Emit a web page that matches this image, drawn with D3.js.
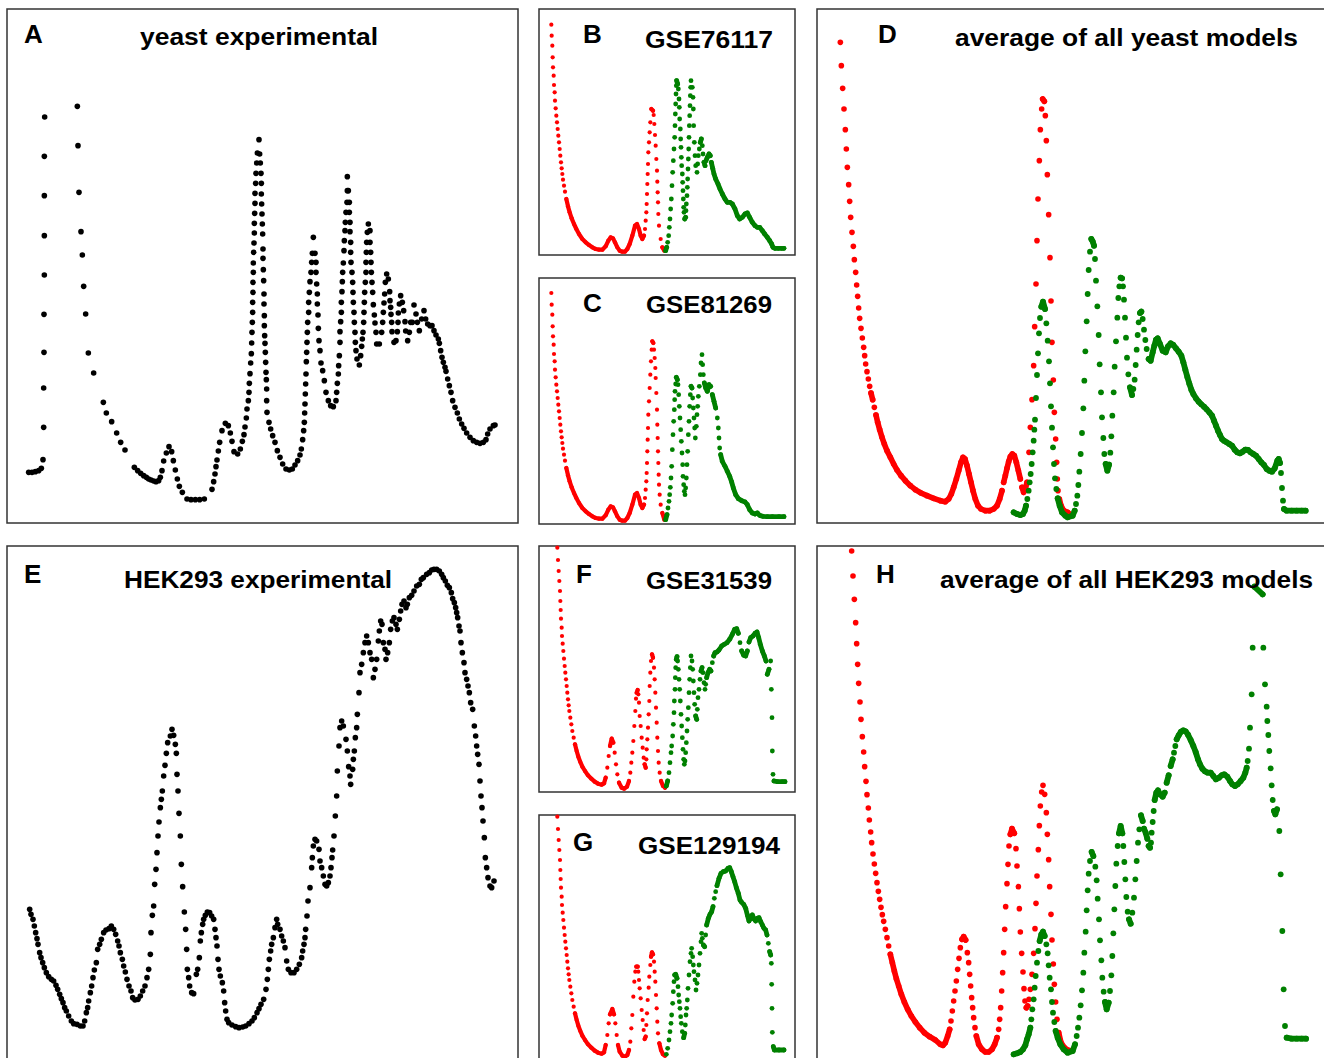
<!DOCTYPE html>
<html lang="en">
<head>
  <meta charset="UTF-8">
  <title>Polysome profiles</title>
  <style>
    body { margin: 0; background: #fff; }
    svg { display: block; }
    text { font-family: "Liberation Sans", Arial, Helvetica, sans-serif; font-weight: bold; }
  </style>
</head>
<body>
  <svg width="1324" height="1058" class="svgs"></svg>
  <script src="https://d3js.org/d3.v7.min.js"></script>
  <script>
    // profiles, [gradient position, absorbance] in arbitrary units
    const yeastExp = [[65,152],[75,152],[85,154],[95,157],[103,164],[108,190],[110,287],[110,405],[111,512],[111,626],[112,744],[112,862],[112,982],[112,1100],[113,1218],
      [211,1250],[213,1132],[216,992],[222,874],[226,804],[230,710],[236,627],[244,510],[260,450],[289,362],[298,330],[314,304],[329,270],[341,242],[354,219],
      [382,167],[392,157],[401,149],[410,142],[418,137],[425,132],[432,129],[440,126],[447,124],[455,127],[460,137],[465,157],[470,186],[478,210],[486,229],[494,214],[499,187],[505,159],[511,132],[517,110],[526,92],[540,72],[552,70],[565,70],[578,70],[592,72],
      [615,101],[620,124],[624,147],[627,169],[630,189],[634,216],[638,242],[645,277],[655,299],[664,292],[670,270],[675,245],[681,214],[692,207],[700,222],[706,245],[711,265],[714,288],[718,315],[720,342],[724,367],[726,392],[727,419],[729,448],[731,480],[733,508],[734,540],[735,572],[736,602],[737,632],[737,662],[738,692],[738,722],[739,752],[739,780],[740,812],[741,840],[742,870],[742,899],[743,929],[744,959],[744,989],[746,1019],[747,1049],[749,1080],[751,1110],[756,1150],
      [758,1107],[760,1080],[762,1049],[763,1019],[763,987],[764,957],[765,927],[766,897],[767,867],[768,822],[768,794],[769,760],[770,727],[771,687],[771,657],[772,622],[772,592],[773,562],[774,539],[775,512],[776,482],[777,452],[778,430],[779,402],[779,367],[780,332],
      [786,302],[791,282],[797,262],[804,242],[811,217],[819,197],[827,177],[837,162],[847,159],[856,162],[864,174],[872,187],[879,204],[883,222],[887,250],[890,277],[892,302],[893,330],[894,357],[895,387],[896,417],[897,447],[898,484],[899,512],[900,542],[901,572],[902,602],[905,632],[905,662],[907,692],[909,724],[912,752],[914,782],[916,809],[919,857],
      [924,809],[927,782],[927,752],[929,717],[931,687],[931,657],[933,624],[934,584],[936,547],[939,517],[942,480],[947,457],[952,427],[957,392],[964,367],[971,352],[979,349],[987,367],[989,392],[991,419],[994,447],[995,472],[997,502],[999,542],[999,574],[1001,604],[1003,632],[1003,662],[1005,694],[1006,724],[1007,752],[1009,780],[1011,817],[1012,847],[1014,877],[1015,902],[1017,932],[1020,962],[1021,997],[1021,1039],
      [1024,997],[1027,962],[1027,932],[1029,902],[1029,874],[1031,842],[1031,812],[1032,782],[1035,752],[1037,722],[1038,692],[1039,662],[1041,632],[1042,602],[1044,572],[1045,542],[1047,517],[1050,492],[1057,474],[1061,502],[1064,530],[1066,552],[1068,572],[1070,602],[1071,632],[1072,662],[1073,692],[1075,722],[1077,752],[1077,782],[1078,812],[1079,842],[1081,872],[1084,897],
      [1089,877],[1089,842],[1091,812],[1092,782],[1093,752],[1095,722],[1097,692],[1099,655],[1102,624],[1104,600],[1107,572],[1109,537],[1117,537],[1124,572],[1127,602],[1129,632],[1131,660],[1133,687],[1135,722],[1139,747],[1144,732],[1148,694],[1149,667],[1151,647],[1152,626],[1154,602],[1155,574],[1161,542],[1167,547],[1171,574],[1173,602],[1174,630],[1177,657],[1181,682],[1186,662],[1190,637],[1194,604],[1196,576],[1202,547],[1207,572],[1211,602],[1216,602],[1221,654],[1227,627],[1231,602],[1237,577],[1244,612],[1251,637],[1256,612],[1262,597],[1269,592],[1275,592],
      [1281,577],[1287,564],[1294,552],[1297,539],[1301,517],[1305,497],[1309,482],[1314,467],[1317,455],[1322,432],[1327,412],[1332,392],[1337,367],[1344,347],[1351,330],[1357,312],[1364,297],[1371,284],[1379,270],[1389,257],[1399,247],[1409,242],[1419,239],[1429,242],[1437,250],[1442,267],[1449,282],[1459,292],[1464,294]]

    const gse76117Red = [[37,691],[38,658],[40,628],[41,593],[42,563],[44,538],[45,510],[47,488],[48,463],[50,440],[52,418],[54,398],[56,378],[58,358],[60,338],[62,318],[64,298],[66,278],[68,260],[70,243],[72,226],[75,208],[78,190],[82,168],[87,146],[92,128],[98,110],[105,93],[112,78],[120,63],[130,48],[140,38],[150,30],[160,23],[170,18],[180,16],[190,16],[200,26],[208,43],[215,53],[222,50],[228,38],[235,23],[242,13],[250,10],[258,10],[265,18],[272,33],[280,58],[288,88],[294,93],[300,78],[305,58],[310,48],[315,58],[318,78],[320,103],[322,128],[323,153],[324,183],[325,213],[326,243],[327,273],[328,308],[330,338],[332,368],[334,398],[337,438],[342,433],[344,420],[346,393],[348,360],[350,328],[352,288],[354,253],[355,220],[356,188],[357,158],[358,123],[360,88],[365,48],[370,23],[376,13]]
    const gse76117Green = [[380,13],[383,23],[386,38],[389,58],[391,83],[393,108],[395,138],[397,168],[399,208],[401,248],[403,283],[405,318],[407,353],[408,388],[409,423],[410,453],[411,483],[412,508],[413,523],[416,513],[418,498],[420,468],[421,443],[422,408],[424,378],[425,348],[426,323],[427,293],[428,268],[430,243],[431,218],[432,193],[433,168],[434,143],[435,128],[437,108],[440,113],[441,133],[442,153],[444,178],[445,203],[446,228],[447,258],[448,288],[449,318],[450,353],[451,388],[452,418],[453,448],[454,478],[455,503],[456,523],[460,503],[462,473],[463,438],[464,388],[466,338],[468,298],[470,268],[474,248],[476,273],[478,298],[481,318],[484,338],[487,348],[490,328],[492,303],[495,278],[498,268],[501,283],[505,293],[510,303],[514,298],[517,278],[521,260],[525,243],[530,228],[537,213],[543,198],[550,183],[558,168],[565,158],[573,158],[580,153],[588,138],[595,118],[602,108],[610,113],[618,123],[625,126],[632,113],[640,98],[648,88],[655,83],[662,83],[670,73],[677,63],[685,53],[692,43],[698,33],[702,23],[708,20],[718,20],[728,20],[735,20]]

    const gse81269Red = [[37,693],[38,658],[40,628],[41,593],[42,563],[44,538],[45,510],[47,488],[48,463],[50,440],[52,418],[54,398],[56,378],[58,358],[60,338],[62,318],[64,298],[66,278],[68,260],[70,243],[72,226],[75,208],[78,190],[82,168],[87,146],[92,128],[98,110],[105,93],[112,78],[120,63],[130,48],[140,38],[150,30],[160,23],[170,18],[180,16],[190,16],[200,26],[208,43],[215,53],[222,50],[228,38],[235,23],[242,13],[250,10],[258,10],[265,18],[272,33],[280,58],[288,88],[294,93],[300,78],[305,58],[310,48],[315,58],[318,78],[320,103],[322,128],[323,153],[324,183],[325,218],[326,253],[327,288],[328,328],[330,368],[332,408],[334,448],[336,488],[338,523],[340,548],[343,543],[345,523],[347,498],[349,468],[350,438],[352,393],[354,343],[355,298],[356,258],[357,218],[358,183],[359,148],[360,118],[362,88],[365,58],[370,33],[376,13]]
    const gse81269Green = [[380,13],[384,28],[387,48],[390,68],[392,88],[394,110],[396,138],[398,173],[400,223],[402,268],[404,308],[406,343],[407,373],[408,398],[410,420],[412,440],[415,433],[417,418],[419,388],[421,353],[423,318],[425,283],[427,248],[429,213],[431,178],[432,143],[434,118],[436,98],[438,88],[440,108],[442,138],[444,178],[446,218],[448,268],[450,308],[452,353],[454,388],[456,413],[459,408],[461,378],[463,348],[465,318],[467,288],[469,258],[472,293],[474,328],[476,353],[478,383],[481,413],[484,448],[486,483],[489,508],[491,478],[493,448],[496,423],[500,408],[505,398],[510,418],[515,413],[520,388],[525,368],[530,348],[535,318],[538,288],[540,258],[542,228],[545,208],[550,188],[558,173],[565,158],[572,143],[578,126],[583,108],[590,88],[598,76],[608,70],[618,66],[625,58],[632,43],[640,33],[648,30],[655,33],[662,26],[672,23],[685,22],[700,22],[720,22],[735,22]]

    const yeastAvgRed = [[70,1442],[73,1372],[77,1304],[81,1242],[85,1180],[88,1122],[91,1067],[95,1015],[98,965],[101,917],[105,872],[109,830],[112,790],[116,752],[119,714],[122,680],[125,645],[128,614],[132,584],[136,555],[140,527],[143,502],[146,477],[150,454],[154,432],[158,410],[162,390],[167,370],[172,347],[177,324],[182,302],[188,280],[195,257],[202,237],[210,217],[220,197],[230,177],[240,159],[252,142],[265,127],[280,112],[295,100],[312,90],[330,82],[350,74],[370,67],[385,64],[395,72],[403,87],[410,107],[418,132],[425,157],[432,182],[438,197],[444,192],[450,172],[456,147],[462,122],[468,97],[475,72],[483,52],[492,42],[505,37],[518,37],[530,42],[540,52],[548,72],[555,97],[560,122],[565,142],[570,164],[575,184],[580,199],[586,207],[592,202],[598,182],[604,157],[610,132],[615,107],[620,92],[625,102],[630,122],[636,212],[640,287],[645,370],[650,472],[653,589],[657,717],[660,847],[663,972],[667,1087],[670,1180],[674,1242],[677,1272],[682,1265],[685,1222],[688,1147],[691,1045],[695,925],[699,796],[702,666],[705,542],[709,429],[712,332],[716,252],[719,182],[721,132],[723,97],[727,72],[732,52],[740,37],[752,32],[762,24]]
    const yeastAvgGreen = [[590,32],[600,27],[610,24],[618,27],[623,37],[627,52],[631,72],[635,97],[638,122],[641,147],[644,177],[647,212],[650,247],[652,280],[654,310],[657,375],[660,444],[663,509],[666,569],[669,615],[673,649],[678,664],[684,642],[688,599],[692,547],[696,485],[699,419],[702,350],[705,286],[708,227],[711,177],[714,134],[718,102],[722,74],[728,52],[735,32],[745,22],[752,17],[767,22],[773,37],[777,57],[781,82],[784,114],[787,154],[791,207],[795,270],[799,344],[802,427],[805,515],[809,605],[812,687],[815,759],[819,814],[823,852],[827,845],[831,832],[834,792],[837,727],[841,650],[845,564],[848,476],[852,392],[855,317],[859,255],[862,207],[866,177],[871,157],[876,175],[880,211],[883,260],[886,322],[890,392],[893,469],[897,545],[901,616],[904,675],[907,710],[911,736],[915,734],[918,710],[921,670],[924,616],[927,556],[930,496],[934,446],[939,407],[945,384],[949,402],[953,430],[956,474],[959,520],[962,564],[965,602],[969,630],[973,634],[977,612],[981,580],[985,549],[989,522],[995,492],[1001,487],[1007,512],[1012,532],[1017,550],[1022,554],[1029,537],[1037,517],[1046,512],[1053,530],[1061,539],[1069,534],[1077,524],[1085,514],[1093,502],[1099,482],[1105,460],[1111,438],[1117,418],[1123,400],[1129,387],[1137,374],[1145,364],[1153,356],[1161,349],[1169,341],[1177,332],[1185,322],[1191,307],[1197,292],[1203,277],[1209,264],[1215,252],[1221,247],[1229,242],[1237,237],[1245,232],[1253,220],[1261,212],[1269,209],[1277,214],[1285,220],[1293,219],[1301,212],[1309,207],[1317,202],[1325,192],[1333,182],[1341,174],[1349,162],[1357,157],[1365,154],[1373,164],[1381,187],[1385,192],[1389,180],[1392,150],[1395,105],[1398,67],[1401,42],[1409,37],[1424,37],[1439,37],[1454,37],[1466,37]]

    const hekExp = [[68,452],[72,437],[78,422],[82,402],[86,382],[90,364],[93,347],[98,322],[102,307],[107,292],[112,277],[118,262],[125,250],[133,242],[140,237],[147,224],[152,212],[158,197],[163,184],[168,172],[173,157],[178,147],[185,132],[193,117],[200,109],[210,107],[220,102],[228,102],[233,117],[238,142],[242,157],[245,177],[250,202],[254,222],[258,247],[262,270],[268,292],[272,332],[278,347],[283,362],[290,382],[297,390],[306,394],[313,402],[320,392],[326,377],[332,357],[336,342],[340,322],[346,302],[350,282],[355,264],[360,242],[366,222],[372,207],[377,187],[384,180],[393,182],[400,192],[407,207],[414,222],[420,247],[425,272],[430,317],[432,382],[436,434],[440,462],[443,527],[447,572],[450,622],[453,672],[456,714],[460,757],[463,782],[466,807],[470,852],[474,884],[478,920],[482,952],[490,972],[495,992],[500,974],[505,947],[508,920],[510,857],[513,807],[516,740],[520,672],[523,587],[527,520],[532,444],[536,392],[539,332],[541,272],[545,247],[548,222],[554,202],[560,199],
      [568,257],[572,272],[577,307],[580,357],[583,382],[587,407],[590,422],[595,434],[601,444],[608,442],[614,432],[620,422],[624,392],[627,367],[630,342],[633,302],[636,272],[640,252],[646,232],[650,207],[653,172],[656,147],[660,122],[665,112],[675,105],[686,100],[696,97],[707,99],[716,102],[726,109],[735,117],[742,127],[750,142],[756,154],[762,167],[770,182],
      [777,212],[781,242],[784,272],[787,302],[791,327],[794,347],[799,367],[804,397],[809,422],[812,407],[819,392],[824,372],[829,357],[834,337],[839,297],[844,272],[852,262],[861,262],[869,272],[877,287],[884,307],[887,327],[891,347],[894,367],[896,392],[900,432],[903,477],[909,517],[914,577],[916,607],[919,642],[924,662],[929,657],[936,632],[939,597],[944,577],[949,552],[954,527],[959,522],[964,532],[969,552],[972,577],[975,607],[977,630],[981,672],[985,732],[989,792],[991,867],[996,942],[999,997],[1004,1017],[1009,1002],[1017,962],[1021,927],[1025,880],[1029,852],[1031,827],[1037,872],[1039,902],[1042,927],[1045,967],[1049,997],[1051,1037],[1056,1102],[1059,1162],[1064,1187],[1069,1222],[1074,1252],[1079,1272],[1084,1252],[1089,1222],[1094,1202],[1099,1147],[1104,1172],[1109,1202],[1114,1257],[1117,1287],[1121,1317],[1125,1307],[1129,1252],[1134,1232],[1137,1202],[1142,1222],[1147,1252],[1151,1292],[1156,1317],[1161,1327],[1167,1307],[1171,1292],[1177,1322],[1181,1347],[1185,1367],[1191,1377],[1197,1357],[1201,1367],[1207,1387],[1214,1394],[1221,1407],[1229,1422],[1237,1427],[1243,1442],[1249,1447],[1259,1457],[1267,1462],[1274,1470],[1281,1472],[1289,1472],[1297,1467],[1304,1457],[1309,1447],[1315,1437],[1321,1424],[1327,1417],[1333,1402],[1337,1384],[1342,1372],[1346,1357],[1349,1342],[1352,1327],[1356,1302],[1359,1287],[1362,1252],[1366,1222],[1371,1192],[1374,1162],[1379,1142],[1383,1122],[1387,1102],[1391,1072],[1397,1052],[1402,1002],[1406,972],[1409,942],[1412,917],[1416,887],[1419,837],[1422,792],[1425,757],[1428,717],[1432,667],[1435,607],[1439,577],[1443,547],[1449,522],[1454,517],[1461,537]]

    const gse31539Red = [[55,733],[57,696],[59,663],[61,633],[63,603],[64,573],[65,546],[66,520],[68,493],[69,468],[71,445],[73,423],[75,400],[77,378],[79,358],[81,338],[83,318],[85,298],[87,278],[89,260],[91,243],[94,223],[97,203],[100,183],[104,163],[108,143],[113,123],[118,106],[124,90],[130,76],[138,63],[147,50],[157,40],[167,31],[177,25],[188,22],[195,26],[200,43],[205,73],[209,108],[213,138],[218,160],[223,148],[227,118],[231,83],[235,53],[240,28],[248,13],[256,10],[264,16],[270,33],[274,58],[277,88],[280,118],[283,153],[286,198],[289,243],[291,280],[293,298],[296,306],[298,293],[300,268],[302,228],[305,198],[308,163],[311,133],[314,103],[317,83],[320,73],[322,98],[323,128],[325,158],[327,193],[329,233],[331,273],[332,318],[334,358],[336,393],[339,413],[342,403],[345,373],[347,338],[349,298],[351,253],[353,208],[355,163],[357,123],[359,88],[362,58],[366,33],[372,18],[378,13]]
    const gse31539Green = [[382,18],[386,33],[390,58],[393,88],[396,118],[398,138],[401,168],[403,203],[405,238],[406,273],[408,308],[409,343],[410,373],[412,398],[414,406],[416,393],[418,368],[420,338],[422,308],[424,273],[426,233],[428,198],[430,163],[432,128],[434,98],[436,83],[438,93],[440,118],[442,148],[444,183],[446,218],[448,253],[450,298],[452,338],[454,373],[456,408],[459,393],[461,368],[463,333],[465,298],[467,263],[470,228],[473,218],[475,248],[477,283],[480,308],[483,338],[486,363],[489,373],[492,358],[495,328],[498,308],[500,323],[503,343],[507,358],[512,368],[516,363],[520,388],[524,408],[528,418],[534,420],[540,426],[548,438],[556,443],[564,448],[572,458],[580,473],[587,488],[593,490],[598,476],[603,448],[608,423],[614,410],[620,408],[625,423],[630,450],[635,463],[642,468],[648,476],[654,480],[659,463],[664,443],[670,423],[676,408],[681,393],[685,353],[690,368],[695,393],[697,308],[699,223],[700,123],[702,53],[705,33],[715,31],[730,31],[738,31]]

    const gse129194Red = [[55,733],[57,696],[59,663],[61,633],[63,603],[64,573],[65,546],[66,520],[68,493],[69,468],[71,445],[73,423],[75,400],[77,378],[79,358],[81,338],[83,318],[85,298],[87,278],[89,260],[91,243],[94,223],[97,203],[100,183],[104,163],[108,143],[113,123],[118,106],[124,90],[130,76],[138,63],[147,50],[157,40],[167,31],[177,25],[188,22],[195,26],[200,48],[205,78],[209,113],[213,140],[220,156],[225,140],[229,113],[233,78],[237,48],[242,28],[250,16],[258,13],[265,18],[270,33],[274,58],[277,98],[280,138],[283,193],[286,238],[289,268],[292,283],[296,283],[298,268],[300,243],[302,218],[305,188],[308,153],[311,123],[314,93],[317,66],[320,73],[322,108],[324,143],[326,183],[329,220],[331,253],[334,288],[336,313],[339,326],[342,320],[345,298],[347,268],[349,238],[351,198],[353,158],[355,118],[357,83],[361,53],[366,33],[372,20],[378,16]]
    const gse129194Green = [[382,20],[386,38],[390,63],[393,88],[396,113],[398,138],[401,173],[403,208],[405,238],[407,258],[410,260],[414,248],[417,223],[419,198],[421,178],[423,158],[425,133],[427,113],[430,88],[434,70],[437,83],[439,108],[441,138],[443,158],[445,183],[447,218],[450,258],[453,298],[456,323],[458,338],[461,313],[463,288],[465,268],[468,243],[471,213],[474,233],[477,258],[480,288],[483,323],[486,358],[488,383],[490,368],[493,348],[497,343],[500,378],[503,408],[508,428],[513,440],[518,448],[522,463],[526,488],[530,508],[534,526],[540,548],[546,563],[553,568],[560,570],[567,578],[572,580],[577,568],[582,553],[587,538],[592,520],[598,503],[603,483],[608,476],[614,470],[620,458],[625,438],[630,420],[635,428],[640,438],[645,426],[650,420],[655,428],[660,430],[665,418],[670,408],[675,398],[680,393],[684,378],[688,353],[692,328],[695,318],[697,293],[698,230],[699,158],[700,86],[703,43],[706,33],[720,33],[735,33]]

    const hekAvgRed = [[104,1527],[108,1452],[112,1382],[116,1312],[119,1249],[122,1187],[125,1130],[129,1074],[132,1022],[136,970],[140,924],[143,880],[147,836],[150,796],[154,756],[157,720],[161,684],[164,652],[168,618],[172,588],[176,560],[180,532],[184,506],[188,482],[192,458],[196,436],[200,416],[205,392],[210,367],[215,342],[220,317],[226,292],[232,267],[238,244],[245,222],[253,197],[262,174],[272,152],[283,132],[295,114],[308,97],[322,82],[338,70],[355,60],[370,47],[378,44],[385,52],[392,72],[398,92],[402,117],[406,147],[410,177],[414,207],[418,237],[422,272],[426,305],[430,337],[435,362],[440,370],[446,360],[451,322],[455,292],[458,257],[461,222],[464,187],[467,157],[470,127],[474,97],[478,72],[485,47],[495,32],[505,24],[515,24],[525,32],[533,47],[540,67],[545,92],[548,122],[551,157],[554,207],[557,262],[560,322],[563,392],[566,460],[570,529],[573,587],[576,642],[580,677],[585,694],[592,680],[597,634],[600,582],[604,520],[607,454],[610,384],[614,320],[618,264],[621,214],[624,177],[628,157],[632,162],[636,182],[640,212],[645,257],[650,320],[654,394],[657,470],[660,552],[664,631],[667,703],[670,762],[674,804],[678,824],[683,797],[688,742],[691,677],[695,601],[698,520],[702,437],[705,360],[709,288],[712,227],[716,174],[720,122],[725,82],[732,52],[742,37],[752,30],[762,27]]
    const hekAvgGreen = [[590,17],[600,20],[610,24],[618,32],[625,44],[630,62],[635,77],[640,97],[643,122],[646,152],[650,182],[653,217],[656,252],[660,292],[664,327],[668,357],[673,377],[678,385],[683,372],[688,347],[692,320],[695,284],[698,247],[702,212],[705,174],[708,142],[712,114],[716,87],[722,67],[730,47],[740,32],[752,22],[767,27],[774,47],[779,72],[783,97],[787,127],[791,164],[795,209],[799,262],[802,322],[806,385],[809,449],[812,509],[815,559],[819,597],[824,624],[829,612],[835,580],[839,539],[842,484],[846,422],[849,359],[853,299],[856,247],[860,205],[864,174],[869,152],[875,172],[879,207],[883,254],[886,312],[889,380],[892,452],[895,522],[898,589],[902,642],[906,680],[911,702],[916,680],[919,642],[922,594],[925,542],[928,489],[932,445],[936,422],[941,409],[946,442],[951,487],[955,542],[959,597],[963,652],[967,692],[972,734],[977,717],[981,694],[986,682],[991,664],[995,642],[999,637],[1002,652],[1004,682],[1007,714],[1010,747],[1013,780],[1018,802],[1023,809],[1029,797],[1037,790],[1043,802],[1049,832],[1055,854],[1061,882],[1067,902],[1071,922],[1075,942],[1079,962],[1085,974],[1092,985],[1099,989],[1106,986],[1113,976],[1121,960],[1129,942],[1136,924],[1143,902],[1149,887],[1156,874],[1164,866],[1172,862],[1181,862],[1189,852],[1197,842],[1206,847],[1214,854],[1222,857],[1231,850],[1239,837],[1246,827],[1254,822],[1262,827],[1271,837],[1279,847],[1285,862],[1289,877],[1292,897],[1296,934],[1299,997],[1304,1097],[1307,1237],[1312,1420],[1337,1397],[1339,1237],[1344,1127],[1349,1060],[1351,1017],[1354,975],[1357,927],[1361,875],[1364,824],[1367,780],[1371,747],[1375,737],[1380,752],[1387,687],[1391,557],[1396,387],[1400,212],[1404,102],[1409,67],[1424,64],[1439,64],[1454,64],[1467,64]]

    const panelLetters = ['A', 'B', 'C', 'D', 'E', 'F', 'G', 'H']
    const panelTitles = ['yeast experimental', 'GSE76117', 'GSE81269', 'average of all yeast models',
      'HEK293 experimental', 'GSE31539', 'GSE129194', 'average of all HEK293 models']

    const RED = '#ff0000'
    const GREEN = '#008000'
    const panelSeries = [
      [{ pts: yeastExp, color: '#000', r: 2.8, joined: false }],
      [{ pts: gse76117Red, color: RED, r: 2.1, joined: true }, { pts: gse76117Green, color: GREEN, r: 2.4, joined: true }],
      [{ pts: gse81269Red, color: RED, r: 2.1, joined: true }, { pts: gse81269Green, color: GREEN, r: 2.4, joined: true }],
      [{ pts: yeastAvgRed, color: RED, r: 2.8, joined: true }, { pts: yeastAvgGreen, color: GREEN, r: 2.9, joined: true }],
      [{ pts: hekExp, color: '#000', r: 2.8, joined: false }],
      [{ pts: gse31539Red, color: RED, r: 2.1, joined: true }, { pts: gse31539Green, color: GREEN, r: 2.4, joined: true }],
      [{ pts: gse129194Red, color: RED, r: 2.1, joined: true }, { pts: gse129194Green, color: GREEN, r: 2.4, joined: true }],
      [{ pts: hekAvgRed, color: RED, r: 2.8, joined: true }, { pts: hekAvgGreen, color: GREEN, r: 2.9, joined: true }],
    ]

    // panel boxes and label placement
    const big = { w: 511, h: 514, xMax: 1533, yMax: 1542 }
    const small = { w: 256, h: 246, xMax: 768, yMax: 738 }
    const layout = [
      { x: 7,   y: 9,   size: big,   letter: [24, 43],   title: [140, 45],  tlen: 238 },
      { x: 539, y: 9,   size: small, letter: [583, 43],  title: [645, 48],  tlen: 128 },
      { x: 539, y: 278, size: small, letter: [583, 312], title: [646, 313], tlen: 126 },
      { x: 817, y: 9,   size: big,   letter: [878, 43],  title: [955, 46],  tlen: 343 },
      { x: 7,   y: 546, size: big,   letter: [24, 583],  title: [124, 588], tlen: 268 },
      { x: 539, y: 546, size: small, letter: [576, 583], title: [646, 589], tlen: 126 },
      { x: 539, y: 815, size: small, letter: [573, 851], title: [638, 854], tlen: 142 },
      { x: 817, y: 546, size: big,   letter: [876, 583], title: [940, 588], tlen: 373 },
    ]

    const mainsvg = d3.select('.svgs')

    // consecutive samples closer than a dot merge into a solid stroke
    function denseRuns(pts, xs, ys) {
      const out = []
      let cur = [pts[0]]
      for (let i = 1; i < pts.length; i++) {
        const dx = Math.abs(xs(pts[i][0]) - xs(pts[i - 1][0]))
        const dy = Math.abs(ys(pts[i][1]) - ys(pts[i - 1][1]))
        if (dy <= 4.5 * dx && Math.hypot(dx, dy) <= 14) cur.push(pts[i])
        else {
          if (cur.length > 1) out.push(cur)
          cur = [pts[i]]
        }
      }
      if (cur.length > 1) out.push(cur)
      return out
    }

    layout.forEach((p, i) => {
      const s = p.size
      const xScale = d3.scaleLinear().domain([0, s.xMax]).range([p.x, p.x + s.w])
      const yScale = d3.scaleLinear().domain([0, s.yMax]).range([p.y + s.h, p.y])

      const g = mainsvg.append('g').attr('class', 'panel')

      g.append('rect')
        .attr('x', p.x).attr('y', p.y)
        .attr('width', s.w).attr('height', s.h)
        .attr('fill', 'none')
        .attr('stroke', '#333')
        .attr('stroke-width', 1.5)

      const line = d3.line().x(d => xScale(d[0])).y(d => yScale(d[1]))

      panelSeries[i].forEach(ser => {
        if (ser.joined) {
          g.selectAll(null).data(denseRuns(ser.pts, xScale, yScale)).join('path')
            .attr('d', line)
            .attr('fill', 'none')
            .attr('stroke', ser.color)
            .attr('stroke-width', ser.r * 2)
            .attr('stroke-linecap', 'round')
            .attr('stroke-linejoin', 'round')
        }
        g.selectAll(null).data(ser.pts).join('circle')
          .attr('cx', d => xScale(d[0]))
          .attr('cy', d => yScale(d[1]))
          .attr('r', ser.r)
          .attr('fill', ser.color)
      })

      g.append('text')
        .text(panelLetters[i])
        .attr('x', p.letter[0]).attr('y', p.letter[1])
        .attr('font-size', '26px')

      g.append('text')
        .text(panelTitles[i])
        .attr('x', p.title[0]).attr('y', p.title[1])
        .attr('font-size', '24px')
        .attr('textLength', p.tlen)
        .attr('lengthAdjust', 'spacingAndGlyphs')
    })
  </script>
</body>
</html>
